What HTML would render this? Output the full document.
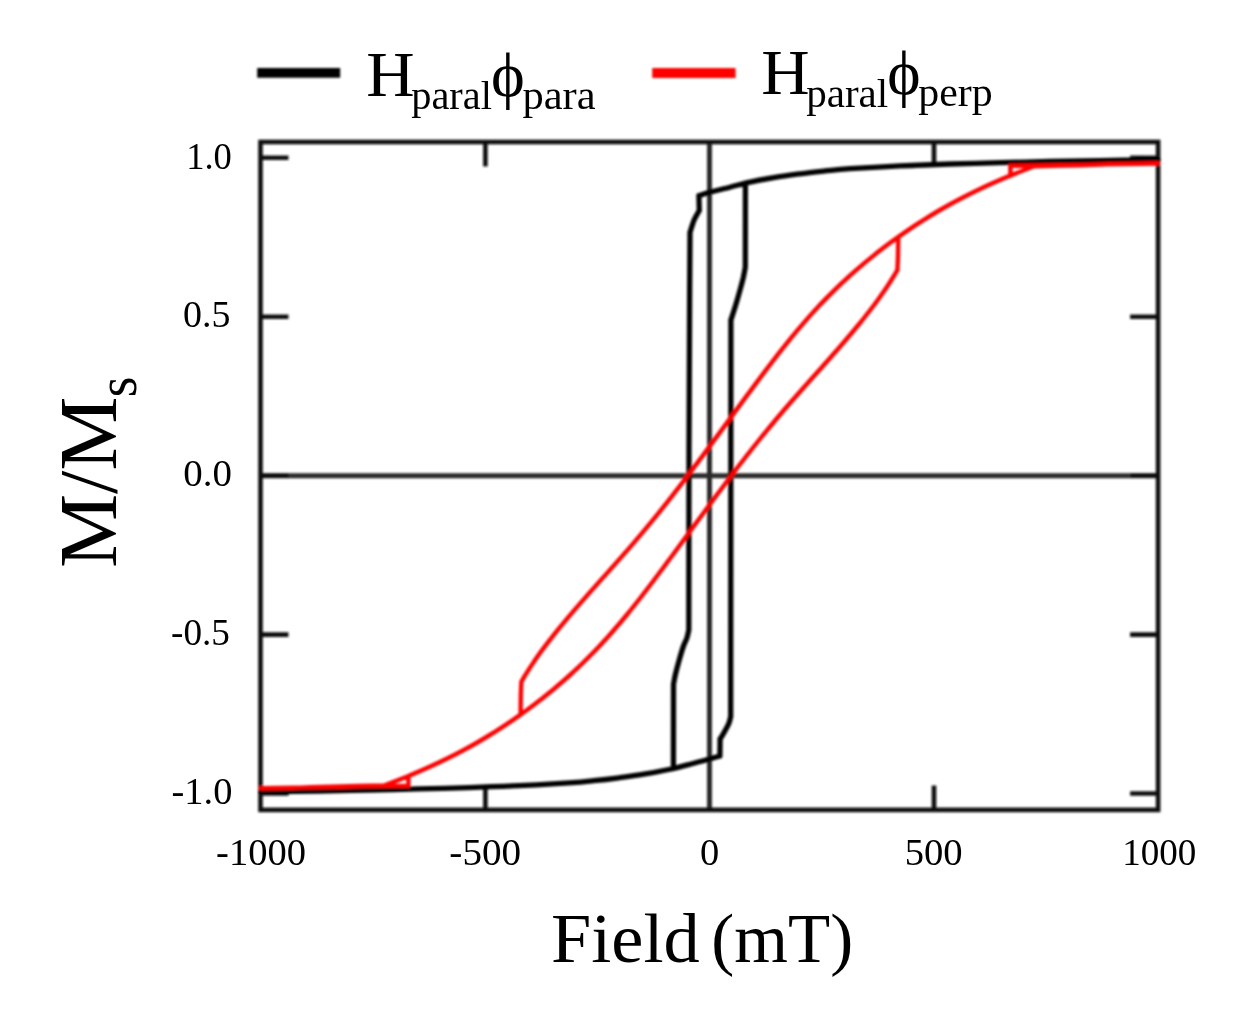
<!DOCTYPE html>
<html><head><meta charset="utf-8"><style>
html,body{margin:0;padding:0;background:#fff;}
svg{display:block;}
text{font-family:"Liberation Serif","Times New Roman",serif;fill:#000;}
</style></head><body>
<svg width="1260" height="1016" viewBox="0 0 1260 1016">
<defs><filter id="bl" x="-1%" y="-1%" width="102%" height="102%"><feGaussianBlur stdDeviation="1.0"/></filter></defs>
<rect x="0" y="0" width="1260" height="1016" fill="#fff"/>
<g filter="url(#bl)">
<path d="M709.5,142.0 V809.9 M260.5,475.8 H1158.1" stroke="#2a2a2a" stroke-width="5.0" fill="none"/>
<rect x="260.5" y="142.0" width="897.5999999999999" height="667.9" stroke="#111" stroke-width="4.6" fill="none"/>
<path d="M260.5,157.7 H288.5 M1158.1,157.7 H1130.1 M260.5,316.7 H288.5 M1158.1,316.7 H1130.1 M260.5,475.8 H288.5 M1158.1,475.8 H1130.1 M260.5,634.6 H288.5 M1158.1,634.6 H1130.1 M260.5,793.5 H288.5 M1158.1,793.5 H1130.1 M485.4,142.0 V166.5 M485.4,809.9 V785.4 M934.0,142.0 V166.5 M934.0,809.9 V785.4" stroke="#111" stroke-width="4.6" fill="none"/>
<path d="M260.8,791.8 C270.5,791.7 300.8,791.3 318.8,791.0 C336.8,790.7 352.1,790.5 368.8,790.1 C385.5,789.8 402.1,789.3 418.8,788.9 C435.5,788.5 452.1,788.1 468.8,787.6 C485.5,787.1 502.1,786.5 518.8,785.7 C535.5,784.9 556.3,783.7 568.8,782.9 C581.3,782.1 585.5,781.6 593.8,780.7 C602.1,779.9 610.5,778.9 618.8,777.8 C627.1,776.7 635.5,775.6 643.8,774.2 C652.1,772.8 661.1,771.2 668.8,769.5 C676.5,767.8 683.2,766.0 690.0,764.2 C696.8,762.5 704.3,760.4 709.3,759.0 C714.3,757.6 718.1,756.5 719.9,756.0 M719.9,756.0 L720.1,739.0 M720.1,739.0 C720.9,737.8 723.2,734.1 724.6,731.5 C726.0,728.9 727.8,726.1 728.8,723.6 C729.8,721.1 730.4,717.7 730.7,716.5 M730.7,716.5 L730.9,320.0 M730.9,320.0 C731.7,317.5 734.2,310.2 735.7,305.1 C737.2,300.0 738.9,294.0 740.2,289.4 C741.5,284.8 742.4,281.3 743.3,277.6 C744.1,273.9 745.0,269.0 745.3,267.3 M745.3,267.3 L745.4,183.3 M745.4,183.3 C746.2,183.1 745.1,183.1 750.0,182.1 C754.9,181.1 766.7,178.8 775.0,177.4 C783.3,176.0 791.7,174.9 800.0,173.8 C808.3,172.7 816.7,171.8 825.0,170.9 C833.3,170.1 837.5,169.5 850.0,168.7 C862.5,167.9 883.3,166.7 900.0,165.9 C916.7,165.1 933.3,164.5 950.0,164.0 C966.7,163.5 983.3,163.1 1000.0,162.7 C1016.7,162.3 1033.3,161.8 1050.0,161.5 C1066.7,161.2 1082.0,160.9 1100.0,160.6 C1118.0,160.3 1148.3,159.9 1158.0,159.8 M1158.0,159.8 C1148.3,159.9 1118.0,160.3 1100.0,160.6 C1082.0,160.9 1066.7,161.2 1050.0,161.5 C1033.3,161.8 1016.7,162.3 1000.0,162.7 C983.3,163.1 966.7,163.5 950.0,164.0 C933.3,164.5 916.7,165.1 900.0,165.9 C883.3,166.7 862.5,167.9 850.0,168.7 C837.5,169.5 833.3,170.1 825.0,170.9 C816.7,171.8 808.3,172.7 800.0,173.8 C791.7,174.9 783.3,176.0 775.0,177.4 C766.7,178.8 757.5,180.5 750.0,182.1 C742.5,183.7 736.8,185.5 730.0,187.2 C723.2,188.9 714.5,191.0 709.3,192.4 C704.1,193.8 700.6,195.1 698.9,195.6 M698.9,195.6 L699.3,210.5 M699.3,210.5 C698.4,212.1 695.6,216.3 694.1,220.0 C692.6,223.7 690.7,230.3 690.0,232.4 M690.0,232.4 L689.6,300.0 L689.0,450.0 L688.8,630.0 M688.8,630.0 C688.5,631.3 687.8,635.2 686.9,638.0 C686.0,640.8 684.7,642.5 683.3,646.5 C681.9,650.5 679.9,657.6 678.6,662.2 C677.3,666.8 676.4,670.3 675.5,674.0 C674.6,677.7 673.8,682.6 673.5,684.3 M673.5,684.3 L673.4,768.3 M673.4,768.3 C672.6,768.5 673.7,768.5 668.8,769.5 C663.9,770.5 652.1,772.8 643.8,774.2 C635.5,775.6 627.1,776.7 618.8,777.8 C610.5,778.9 602.1,779.9 593.8,780.7 C585.5,781.6 581.3,782.1 568.8,782.9 C556.3,783.7 535.5,784.9 518.8,785.7 C502.1,786.5 485.5,787.1 468.8,787.6 C452.1,788.1 435.5,788.5 418.8,788.9 C402.1,789.3 385.5,789.8 368.8,790.1 C352.1,790.5 336.8,790.7 318.8,791.0 C300.8,791.3 270.5,791.7 260.8,791.8" stroke="#000" stroke-width="5.3" fill="none" stroke-linejoin="round" stroke-linecap="round"/>
<path d="M261.0,788.5 C267.5,788.4 286.8,788.0 300.0,787.6 C313.2,787.2 325.9,786.8 340.0,786.4 C354.1,786.0 377.3,785.6 384.8,785.4 M384.8,785.4 L408.6,776.0 M408.4,776.0 L415.6,773.0 L422.5,770.0 L429.3,767.0 L435.8,764.0 L442.1,761.0 L448.2,758.0 L454.2,755.0 L460.0,752.0 L465.6,749.0 L471.1,746.0 L476.4,743.0 L481.5,740.0 L486.5,737.0 L491.4,734.0 L496.2,731.0 L500.9,728.0 L505.5,725.0 L509.9,722.0 L514.3,719.0 L518.6,716.0 L522.8,713.0 L527.0,710.0 L531.0,707.0 L535.0,704.0 L538.9,701.0 L542.8,698.0 L546.5,695.0 L550.2,692.0 L553.9,689.0 L557.4,686.0 L560.9,683.0 L564.4,680.0 L567.8,677.0 L571.1,674.0 L574.3,671.0 L577.6,668.0 L580.7,665.0 L583.8,662.0 L586.8,659.0 L589.8,656.0 L592.8,653.0 L595.7,650.0 L598.6,647.0 L601.4,644.0 L604.1,641.0 L606.9,638.0 L609.6,635.0 L612.2,632.0 L614.8,629.0 L617.4,626.0 L620.0,623.0 L622.5,620.0 L625.0,617.0 L627.5,614.0 L629.9,611.0 L632.3,608.0 L634.7,605.0 L637.1,602.0 L639.5,599.0 L641.8,596.0 L644.1,593.0 L646.4,590.0 L648.7,587.0 L651.0,584.0 L653.3,581.0 L655.5,578.0 L657.8,575.0 L660.0,572.0 L662.3,569.0 L664.5,566.0 L666.7,563.0 L668.9,560.0 L671.2,557.0 L673.4,554.0 L675.6,551.0 L677.8,548.0 L680.0,545.0 L682.2,542.0 L684.4,539.0 L686.6,536.0 L688.8,533.0 L691.0,530.0 L693.2,527.0 L695.4,524.0 L697.6,521.0 L699.8,518.0 L702.0,515.0 L704.2,512.0 L706.4,509.0 L708.6,506.0 L710.9,503.0 L713.1,500.0 L715.3,497.0 L717.5,494.0 L719.8,491.0 L722.0,488.0 L724.3,485.0 L726.5,482.0 L728.8,479.0 L731.1,476.0 L733.3,473.0 L735.6,470.0 L737.9,467.0 L740.2,464.0 L742.6,461.0 L744.9,458.0 L747.2,455.0 L749.6,452.0 L751.9,449.0 L754.3,446.0 L756.7,443.0 L759.1,440.0 L761.5,437.0 L764.0,434.0 L766.4,431.0 L768.9,428.0 L771.4,425.0 L773.9,422.0 L776.4,419.0 L778.9,416.0 L781.5,413.0 L784.0,410.0 L786.6,407.0 L789.2,404.0 L791.8,401.0 L794.5,398.0 L797.1,395.0 L799.8,392.0 L802.4,389.0 L805.1,386.0 L807.8,383.0 L810.4,380.0 L813.1,377.0 L815.8,374.0 L818.5,371.0 L821.2,368.0 L823.8,365.0 L826.5,362.0 L829.2,359.0 L831.8,356.0 L834.4,353.0 L837.1,350.0 L839.7,347.0 L842.3,344.0 L844.9,341.0 L847.4,338.0 L850.0,335.0 L852.5,332.0 L855.0,329.0 L857.5,326.0 L860.0,323.0 L862.4,320.0 L864.8,317.0 L867.1,314.0 L869.5,311.0 L871.8,308.0 L874.1,305.0 L876.3,302.0 L878.5,299.0 L880.6,296.0 L882.7,293.0 L884.8,290.0 L886.8,287.0 L888.8,284.0 L890.7,281.0 L892.6,278.0 L894.5,275.0 L896.2,272.0 L897.4,270.0 M897.4,270.0 C897.5,267.5 897.9,260.5 898.0,255.0 C898.1,249.5 898.2,240.0 898.2,237.0 M898.2,237.0 L902.5,234.0 L906.8,231.0 L911.3,228.0 L915.8,225.0 L920.4,222.0 L925.1,219.0 L930.0,216.0 L934.9,213.0 L940.0,210.0 L945.3,207.0 L950.6,204.0 L956.2,201.0 L961.9,198.0 L967.8,195.0 L973.8,192.0 L980.0,189.0 L986.5,186.0 L993.1,183.0 L1000.0,180.0 L1007.0,177.0 L1010.4,175.6 M1010.4,175.6 L1010.4,165.8 M1010.4,165.8 C1018.7,165.7 1045.1,165.4 1060.0,165.2 C1074.9,165.0 1083.7,164.7 1100.0,164.4 C1116.3,164.1 1148.3,163.7 1158.0,163.5 M260.8,788.1 C270.5,788.0 302.5,787.5 318.8,787.2 C335.1,786.9 343.9,786.6 358.8,786.4 C373.7,786.2 400.1,785.9 408.4,785.8 M408.4,785.8 L408.4,776.0 M408.4,776.0 L411.8,774.6 L418.8,771.6 L425.7,768.6 L432.3,765.6 L438.8,762.6 L445.0,759.6 L451.0,756.6 L456.9,753.6 L462.6,750.6 L468.2,747.6 L473.5,744.6 L478.8,741.6 L483.9,738.6 L488.8,735.6 L493.7,732.6 L498.4,729.6 L503.0,726.6 L507.5,723.6 L512.0,720.6 L516.3,717.6 L520.6,714.6 M520.6,714.6 C520.6,711.6 520.7,702.1 520.8,696.6 C520.9,691.1 521.3,684.1 521.4,681.6 M521.4,681.6 L522.6,679.6 L524.3,676.6 L526.2,673.6 L528.1,670.6 L530.0,667.6 L532.0,664.6 L534.0,661.6 L536.1,658.6 L538.2,655.6 L540.3,652.6 L542.5,649.6 L544.7,646.6 L547.0,643.6 L549.3,640.6 L551.7,637.6 L554.0,634.6 L556.4,631.6 L558.8,628.6 L561.3,625.6 L563.8,622.6 L566.3,619.6 L568.8,616.6 L571.4,613.6 L573.9,610.6 L576.5,607.6 L579.1,604.6 L581.7,601.6 L584.4,598.6 L587.0,595.6 L589.6,592.6 L592.3,589.6 L595.0,586.6 L597.6,583.6 L600.3,580.6 L603.0,577.6 L605.7,574.6 L608.4,571.6 L611.0,568.6 L613.7,565.6 L616.4,562.6 L619.0,559.6 L621.7,556.6 L624.3,553.6 L627.0,550.6 L629.6,547.6 L632.2,544.6 L634.8,541.6 L637.3,538.6 L639.9,535.6 L642.4,532.6 L644.9,529.6 L647.4,526.6 L649.9,523.6 L652.4,520.6 L654.8,517.6 L657.3,514.6 L659.7,511.6 L662.1,508.6 L664.5,505.6 L666.9,502.6 L669.2,499.6 L671.6,496.6 L673.9,493.6 L676.2,490.6 L678.6,487.6 L680.9,484.6 L683.2,481.6 L685.5,478.6 L687.7,475.6 L690.0,472.6 L692.3,469.6 L694.5,466.6 L696.8,463.6 L699.0,460.6 L701.3,457.6 L703.5,454.6 L705.7,451.6 L707.9,448.6 L710.2,445.6 L712.4,442.6 L714.6,439.6 L716.8,436.6 L719.0,433.6 L721.2,430.6 L723.4,427.6 L725.6,424.6 L727.8,421.6 L730.0,418.6 L732.2,415.6 L734.4,412.6 L736.6,409.6 L738.8,406.6 L741.0,403.6 L743.2,400.6 L745.4,397.6 L747.6,394.6 L749.9,391.6 L752.1,388.6 L754.3,385.6 L756.5,382.6 L758.8,379.6 L761.0,376.6 L763.3,373.6 L765.5,370.6 L767.8,367.6 L770.1,364.6 L772.4,361.6 L774.7,358.6 L777.0,355.6 L779.3,352.6 L781.7,349.6 L784.1,346.6 L786.5,343.6 L788.9,340.6 L791.3,337.6 L793.8,334.6 L796.3,331.6 L798.8,328.6 L801.4,325.6 L804.0,322.6 L806.6,319.6 L809.2,316.6 L811.9,313.6 L814.7,310.6 L817.4,307.6 L820.2,304.6 L823.1,301.6 L826.0,298.6 L829.0,295.6 L832.0,292.6 L835.0,289.6 L838.1,286.6 L841.2,283.6 L844.5,280.6 L847.7,277.6 L851.0,274.6 L854.4,271.6 L857.9,268.6 L861.4,265.6 L864.9,262.6 L868.6,259.6 L872.3,256.6 L876.0,253.6 L879.9,250.6 L883.8,247.6 L887.8,244.6 L891.8,241.6 L896.0,238.6 L900.2,235.6 L904.5,232.6 L908.9,229.6 L913.3,226.6 L917.9,223.6 L922.6,220.6 L927.4,217.6 L932.3,214.6 L937.3,211.6 L942.4,208.6 L947.7,205.6 L953.2,202.6 L958.8,199.6 L964.6,196.6 L970.6,193.6 L976.7,190.6 L983.0,187.6 L989.5,184.6 L996.3,181.6 L1003.2,178.6 L1010.4,175.6 M1010.2,175.6 L1034.0,166.2 M1034.0,166.2 C1041.5,166.0 1064.7,165.6 1078.8,165.2 C1092.9,164.8 1105.6,164.3 1118.8,164.0 C1132.0,163.7 1151.3,163.3 1157.8,163.1" stroke="#ff0000" stroke-width="4.4" fill="none" stroke-linejoin="round" stroke-linecap="round"/>
<path d="M257.2,72.9 H340.2" stroke="#000" stroke-width="9.6"/>
<path d="M652.2,73.1 H735.6" stroke="#ff0000" stroke-width="10"/>
</g>
<text x="186.18" y="168.7" textLength="45.68" lengthAdjust="spacingAndGlyphs" style="font-size:37.5px" class="tk">1.0</text>
<text x="182.99" y="327.4" textLength="47.41" lengthAdjust="spacingAndGlyphs" style="font-size:37.5px" class="tk">0.5</text>
<text x="183.26" y="486.2" textLength="48.65" lengthAdjust="spacingAndGlyphs" style="font-size:37.5px" class="tk">0.0</text>
<text x="171.01" y="644.7" textLength="58.85" lengthAdjust="spacingAndGlyphs" style="font-size:37.5px" class="tk">-0.5</text>
<text x="171.58" y="803.7" textLength="60.83" lengthAdjust="spacingAndGlyphs" style="font-size:37.5px" class="tk">-1.0</text>
<text x="216.07" y="865.0" textLength="89.87" lengthAdjust="spacingAndGlyphs" style="font-size:37.5px" class="tk">-1000</text>
<text x="449.36" y="865.0" textLength="71.77" lengthAdjust="spacingAndGlyphs" style="font-size:37.5px" class="tk">-500</text>
<text x="700.08" y="865.0" textLength="19.22" lengthAdjust="spacingAndGlyphs" style="font-size:37.5px" class="tk">0</text>
<text x="904.74" y="865.0" textLength="57.95" lengthAdjust="spacingAndGlyphs" style="font-size:37.5px" class="tk">500</text>
<text x="1122.13" y="865.0" textLength="74.15" lengthAdjust="spacingAndGlyphs" style="font-size:37.5px" class="tk">1000</text>
<text x="550.92" y="962.0" textLength="148.79" lengthAdjust="spacingAndGlyphs" style="font-size:69.5px" >Field</text>
<text x="711.32" y="962.0" textLength="141.87" lengthAdjust="spacingAndGlyphs" style="font-size:69.5px" >(mT)</text>
<g transform="translate(116,566) rotate(-90)"><text x="-2.03" y="0.0" textLength="171.39" lengthAdjust="spacingAndGlyphs" style="font-size:82px" >M/M</text></g>
<g transform="translate(135.5,395.4) rotate(-90)"><text x="-1.83" y="0.0" textLength="20.7" lengthAdjust="spacingAndGlyphs" style="font-size:58px" >s</text></g>
<text x="366.29" y="96.1" textLength="48.37" lengthAdjust="spacingAndGlyphs" style="font-size:63.5px" >H</text>
<text x="411.26" y="109.0" textLength="80.72" lengthAdjust="spacingAndGlyphs" style="font-size:39px" >paral</text>
<text x="491.07" y="96.1" textLength="33.74" lengthAdjust="spacingAndGlyphs" style="font-size:63px" >ϕ</text>
<text x="522.51" y="108.8" textLength="73.11" lengthAdjust="spacingAndGlyphs" style="font-size:39px" >para</text>
<text x="761.29" y="93.6" textLength="48.37" lengthAdjust="spacingAndGlyphs" style="font-size:63.5px" >H</text>
<text x="806.25" y="106.5" textLength="81.95" lengthAdjust="spacingAndGlyphs" style="font-size:39px" >paral</text>
<text x="887.19" y="93.6" textLength="33.29" lengthAdjust="spacingAndGlyphs" style="font-size:63px" >ϕ</text>
<text x="918.23" y="106.3" textLength="74.38" lengthAdjust="spacingAndGlyphs" style="font-size:39px" >perp</text>
</svg>
</body></html>
